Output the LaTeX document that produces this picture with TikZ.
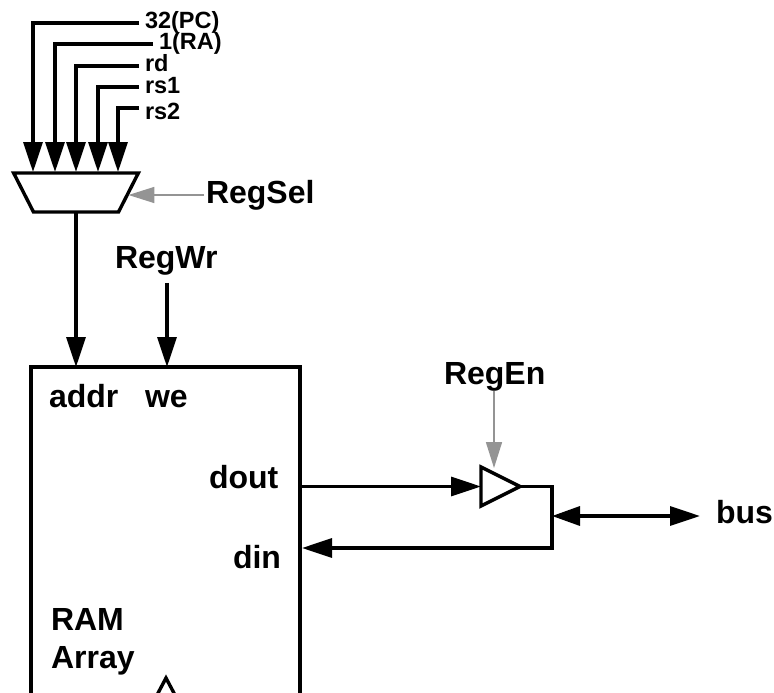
\documentclass[tikz,border=0pt]{standalone}
\usepackage{fontspec}
\setmainfont{Liberation Sans}
\usetikzlibrary{arrows.meta, shapes.geometric}
\begin{document}
\begin{tikzpicture}[x = 1pt, y = -1pt, line width = 3.4pt, line join = miter,
		every node/.style = { inner sep = 0pt, outer sep = 0pt, font = \bfseries\fontsize{32}{32}\selectfont },
		small/.style = { anchor = west, font = \bfseries\fontsize{23.5}{24}\selectfont, text height = 12pt, text depth = 0pt, outer xsep = 6pt },
		label/.style = { anchor = base west },
		wire/.style = { -{Triangle[width = 19pt, length = 30pt]} },
		ctrl/.style = { draw = black!42, line width = 1.6pt, -{Triangle[width = 16pt, length = 26pt]} }]
			\useasboundingbox (0, 0) rectangle (774, 693);
			\clip (0, 0) rectangle (774, 693);
			\node[small] (pc) at (139, 23) {32(PC)};
			\node[small] (ra) at (153, 44) {1(RA)};
			\node[small] (rd) at (139, 66) {rd};
			\node[small] (rsa) at (139, 87) {rs1};
			\node[small] (rsb) at (139, 113) {rs2};
			\node[draw, trapezium, shape border rotate = 180, trapezium angle = 63, text width = 85pt, text height = 39pt, text depth = 0pt] (mux) at (76, 192.5) {};
			\coordinate (ma) at (33, 172);
			\coordinate (mb) at (55, 172);
			\coordinate (mc) at (76, 172);
			\coordinate (md) at (98, 172);
			\coordinate (me) at (118, 172);
			\node[anchor = west, outer xsep = 2pt] (regsel) at (204, 195) {RegSel};
			\node[label, outer ysep = 8pt] (regwr) at (115, 268) {RegWr};
			\node[draw, minimum width = 269pt, minimum height = 360pt] (ram) at (165.5, 547) {};
			\coordinate (raddr) at (76, 367);
			\coordinate (rwe) at (167, 367);
			\coordinate (rdout) at (301, 486.5);
			\coordinate (rdin) at (302, 548);
			\node[label] (addr) at (49, 407) {addr};
			\node[label] (we) at (145, 407) {we};
			\node[label] (dout) at (209, 488) {dout};
			\node[label] (din) at (233, 568) {din};
			\node[label] (rama) at (51, 630) {RAM};
			\node[label] (ramb) at (51, 668) {Array};
			\node[label] (regen) at (444, 384) {RegEn};
			\node[draw, isosceles triangle, anchor = apex, inner sep = 1pt, isosceles triangle stretches = true, minimum width = 39pt, minimum height = 39pt] (buf) at (520, 486.5) {};
			\coordinate (bufen) at (494, 468);
			\coordinate (corner) at (552, 516);
			\node[label] (bus) at (716, 523) {bus};
			\coordinate (busend) at (700, 516);
			\draw[wire] (pc.west) -| (ma);
			\draw[wire] (ra.west) -| (mb);
			\draw[wire] (rd.west) -| (mc);
			\draw[wire] (rsa.west) -| (md);
			\draw[wire] ([yshift = 5pt]rsb.west) -| (me);
			\draw[ctrl] (regsel.west) -- (regsel.west -| mux.east);
			\draw[wire] (mux.south) -- (raddr);
			\draw[wire] (regwr.south -| rwe) -- (rwe);
			\draw[wire] (rdout) -- (rdout -| buf.lower side);
			\draw[ctrl] (regen.south -| bufen) -- (bufen);
			\draw[wire] (buf.apex) -| (corner) |- (rdin);
			\draw[{Triangle[width = 19pt, length = 28pt]}-{Triangle[width = 19pt, length = 30pt]}] (corner) -- (busend);
			\draw (157, 695) -- (166, 678) -- (175, 695);
		\end{tikzpicture}
\end{document}
